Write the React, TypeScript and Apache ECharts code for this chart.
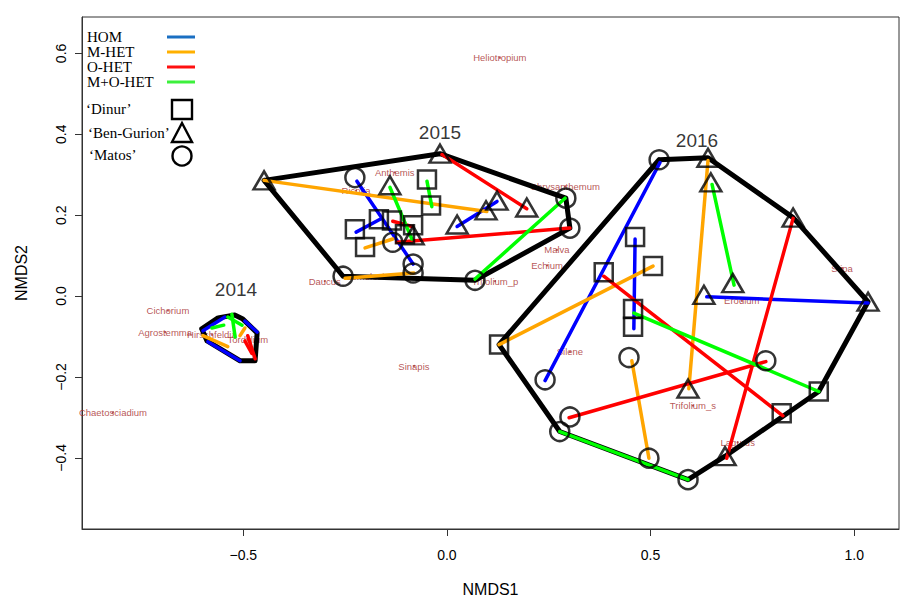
import React, { useEffect, useRef } from "react";
import * as echarts from "echarts";

type Pt = [number, number];
type Seg = [number, number, number, number];

// Axis ticks
const xTicks = [-0.5, 0, 0.5, 1.0];
const yTicks = [-0.4, -0.2, 0, 0.2, 0.4, 0.6];

// Sample scores (NMDS1, NMDS2) by site: 2015 then 2016
const dinur: Pt[] = [
  [-0.226, 0.165], [-0.201, 0.121], [-0.167, 0.190], [-0.135, 0.187],
  [-0.083, 0.175], [-0.103, 0.153], [-0.049, 0.288], [-0.039, 0.224],
  [0.128, -0.120], [0.913, -0.236], [0.822, -0.290], [0.462, 0.146],
  [0.506, 0.074], [0.385, 0.059], [0.457, -0.032], [0.457, -0.076],
];
const benGurion: Pt[] = [
  [-0.449, 0.286], [-0.017, 0.352], [-0.140, 0.274], [-0.083, 0.150],
  [0.025, 0.177], [0.096, 0.212], [0.123, 0.236], [0.196, 0.219],
  [0.641, 0.342], [0.648, 0.281], [0.850, 0.194], [1.034, -0.014],
  [0.702, 0.032], [0.631, 0.003], [0.592, -0.229], [0.683, -0.396],
];
const matos: Pt[] = [
  [-0.226, 0.293], [-0.133, 0.133], [-0.083, 0.079], [-0.083, 0.057],
  [-0.255, 0.049], [0.069, 0.039], [0.292, 0.242], [0.302, 0.168],
  [0.521, 0.337], [0.241, -0.207], [0.447, -0.152], [0.783, -0.160],
  [0.302, -0.299], [0.277, -0.335], [0.496, -0.401], [0.592, -0.454],
];

// Convex hulls of each year
const hull2014: Pt[] = [
  [-0.602, -0.081], [-0.562, -0.054], [-0.521, -0.047], [-0.501, -0.057],
  [-0.466, -0.091], [-0.471, -0.160], [-0.508, -0.160], [-0.589, -0.111],
];
const hull2015: Pt[] = [
  [-0.449, 0.286], [-0.017, 0.352], [0.292, 0.242], [0.302, 0.168],
  [0.069, 0.039], [-0.255, 0.049],
];
const hull2016: Pt[] = [
  [0.521, 0.337], [0.641, 0.342], [0.850, 0.194], [1.034, -0.014],
  [0.913, -0.236], [0.683, -0.396], [0.592, -0.454], [0.277, -0.335],
  [0.128, -0.120],
];

// Paired-sample segments by treatment: [x1, y1, x2, y2]
const homSegs: Seg[] = [
  [-0.599, -0.086, -0.545, -0.052], [-0.587, -0.113, -0.508, -0.160], [-0.496, -0.062, -0.466, -0.089],
  [-0.221, 0.284, -0.083, 0.079], [-0.223, 0.158, -0.164, 0.190], [0.025, 0.172, 0.123, 0.234],
  [0.523, 0.330, 0.241, -0.209], [0.462, 0.141, 0.459, -0.081], [0.638, -0.002, 1.034, -0.017],
];
const mHetSegs: Seg[] = [
  [-0.599, -0.098, -0.538, -0.125], [-0.508, -0.098, -0.496, -0.079],
  [-0.449, 0.286, 0.098, 0.209], [-0.201, 0.119, -0.133, 0.141], [-0.250, 0.044, -0.081, 0.057],
  [0.128, -0.120, 0.506, 0.074], [0.641, 0.335, 0.594, -0.229], [0.454, -0.160, 0.496, -0.401],
];
const oHetSegs: Seg[] = [
  [-0.489, -0.098, -0.471, -0.155], [-0.496, -0.111, -0.479, -0.142],
  [-0.012, 0.350, 0.196, 0.216], [-0.123, 0.133, 0.302, 0.168], [-0.133, 0.185, -0.086, 0.172],
  [0.385, 0.049, 0.825, -0.296], [0.850, 0.192, 0.687, -0.401], [0.300, -0.301, 0.783, -0.162],
];
const moHetSegs: Seg[] = [
  [-0.577, -0.079, -0.548, -0.072], [-0.528, -0.045, -0.520, -0.101], [-0.538, -0.052, -0.503, -0.072],
  [-0.140, 0.269, -0.086, 0.141], [-0.049, 0.284, -0.037, 0.221], [0.290, 0.242, 0.069, 0.042],
  [0.651, 0.276, 0.705, 0.027], [0.459, -0.042, 0.913, -0.236], [0.277, -0.335, 0.592, -0.454],
];

// Species scores
const speciesNames = [
  "Heliotropium", "Anthemis", "Ricotia", "Chrysanthemum", "Malva", "Echium",
  "Trifolium_p", "Daucus", "Lomelosia", "Stipa", "Erodium", "Silene", "Sinapis",
  "Trifolium_s", "Lagurus", "Cichorium", "Agrostemma", "Hirschfeldia", "Tordylium",
  "Chaetosciadium",
];
const speciesPos: Pt[] = [
  [0.130, 0.589], [-0.128, 0.306], [-0.223, 0.261], [0.290, 0.271], [0.270, 0.114],
  [0.246, 0.076], [0.118, 0.037], [-0.300, 0.037], [-0.194, 0.049], [0.970, 0.069],
  [0.724, -0.012], [0.302, -0.138], [-0.081, -0.173], [0.604, -0.271], [0.714, -0.362],
  [-0.685, -0.036], [-0.692, -0.089], [-0.577, -0.096], [-0.489, -0.108], [-0.820, -0.288],
];

// Year annotations
const years = ["2014", "2015", "2016"];
const yearPos: Pt[] = [[-0.518, 0.017], [-0.017, 0.404], [0.614, 0.385]];

// Legend entries
const treatmentNames = ["HOM", "M-HET", "O-HET", "M+O-HET"];
const treatmentLegendColors = ["#1a6fc2", "#ffb000", "#ff1010", "#3cf03c"];
const siteNames = ["\u2018Dinur\u2019", "\u2018Ben-Gurion\u2019", "\u2018Matos\u2019"];

const SEG_COLORS = { hom: "#0000ff", mhet: "#ffa500", ohet: "#ff0000", mohet: "#00ff00" };
const BROWN = "#a52a2a";
const SANS = "'Liberation Sans', Arial, sans-serif";
const SERIF = "'Liberation Serif', 'Times New Roman', serif";

const fmt = (v: number) => (v < 0 ? "\u2212" : "") + Math.abs(v).toFixed(1);

const segSeries = (segs: Seg[], color: string) => ({
  type: "lines",
  coordinateSystem: "cartesian2d",
  data: segs.map((s) => ({ coords: [[s[0], s[1]], [s[2], s[3]]] })),
  lineStyle: { color, width: 3.5, opacity: 1, cap: "round" },
  silent: true,
  z: 3,
});

const siteSeries = (pts: Pt[], symbol: string, size: number | number[]) => ({
  type: "scatter",
  data: pts,
  symbol,
  symbolSize: size,
  itemStyle: { color: "rgba(0,0,0,0)", borderColor: "#000", borderWidth: 2.5 },
  silent: true,
  z: 4,
});

export default function App() {
  const ref = useRef<HTMLDivElement>(null);

  useEffect(() => {
    if (!ref.current) return;
    const chart = echarts.init(ref.current, null, { renderer: "svg" });

    const legendGraphics: any[] = [];
    const rowY = [37, 52, 67, 82];
    treatmentNames.forEach((n, i) => {
      legendGraphics.push({
        type: "text",
        x: 87,
        y: rowY[i],
        style: { text: n, font: `15px ${SERIF}`, fill: "#000", align: "left", verticalAlign: "middle", textAlign: "left", textVerticalAlign: "middle" },
      });
      legendGraphics.push({
        type: "line",
        shape: { x1: 167, y1: rowY[i], x2: 195, y2: rowY[i] },
        style: { stroke: treatmentLegendColors[i], lineWidth: 3 },
      });
    });
    const siteY = [109, 133, 155];
    const siteX = [86, 88, 89];
    siteNames.forEach((n, i) => {
      legendGraphics.push({
        type: "text",
        x: siteX[i],
        y: siteY[i],
        style: { text: n, font: `15px ${SERIF}`, fill: "#000", align: "left", verticalAlign: "middle", textAlign: "left", textVerticalAlign: "middle" },
      });
    });
    legendGraphics.push({
      type: "rect",
      shape: { x: 172, y: 100, width: 20, height: 19 },
      style: { fill: "none", stroke: "#000", lineWidth: 2.4 },
    });
    legendGraphics.push({
      type: "polygon",
      shape: { points: [[182, 123], [172, 142], [192, 142]] },
      style: { fill: "none", stroke: "#000", lineWidth: 2.4 },
    });
    legendGraphics.push({
      type: "circle",
      shape: { cx: 182, cy: 156, r: 9.5 },
      style: { fill: "none", stroke: "#000", lineWidth: 2.4 },
    });

    chart.setOption({
      animation: false,
      backgroundColor: "#fff",
      grid: {
        left: 82, top: 17, right: 4, bottom: 71,
        show: true, borderColor: "#333", borderWidth: 1, backgroundColor: "transparent",
      },
      xAxis: {
        type: "value",
        min: -0.896,
        max: 1.110,
        splitLine: { show: false },
        axisLine: { show: true, onZero: false, lineStyle: { color: "#333", width: 1 } },
        axisTick: { show: true, customValues: xTicks, length: 7, lineStyle: { color: "#333" } },
        axisLabel: { customValues: xTicks, formatter: fmt, fontSize: 14, color: "#000", fontFamily: SANS, margin: 19 },
        name: "NMDS1",
        nameLocation: "middle",
        nameGap: 52,
        nameTextStyle: { fontSize: 16, color: "#000", fontFamily: SANS },
      },
      yAxis: {
        type: "value",
        min: -0.576,
        max: 0.690,
        splitLine: { show: false },
        axisLine: { show: true, onZero: false, lineStyle: { color: "#333", width: 1 } },
        axisTick: { show: true, customValues: yTicks, length: 7, lineStyle: { color: "#333" } },
        axisLabel: { customValues: yTicks, formatter: fmt, fontSize: 14, color: "#000", fontFamily: SANS, rotate: 90, margin: 14 },
        name: "NMDS2",
        nameLocation: "middle",
        nameGap: 53,
        nameRotate: 90,
        nameTextStyle: { fontSize: 16, color: "#000", fontFamily: SANS },
      },
      series: [
        {
          type: "scatter",
          data: speciesNames.map((n, i) => ({ name: n, value: speciesPos[i] })),
          symbol: "circle",
          symbolSize: 2,
          itemStyle: { color: BROWN },
          label: { show: true, position: "inside", formatter: "{b}", color: BROWN, fontSize: 9.5, fontFamily: SANS },
          silent: true,
          z: 1,
        },
        {
          type: "lines",
          coordinateSystem: "cartesian2d",
          polyline: true,
          data: [hull2014, hull2015, hull2016].map((h) => ({ coords: [...h, h[0]] })),
          lineStyle: { color: "#000", width: 5, opacity: 1, join: "round", cap: "round" },
          silent: true,
          z: 2,
        },
        segSeries(homSegs, SEG_COLORS.hom),
        segSeries(mHetSegs, SEG_COLORS.mhet),
        segSeries(oHetSegs, SEG_COLORS.ohet),
        segSeries(moHetSegs, SEG_COLORS.mohet),
        siteSeries(dinur, "rect", 18),
        siteSeries(benGurion, "triangle", [21, 18]),
        siteSeries(matos, "circle", 19),
        {
          type: "scatter",
          data: years.map((n, i) => ({ name: n, value: yearPos[i] })),
          symbolSize: 1,
          itemStyle: { color: "rgba(0,0,0,0)" },
          label: { show: true, position: "inside", formatter: "{b}", color: "#000", fontSize: 19, fontFamily: SANS },
          silent: true,
          z: 5,
        },
      ],
      graphic: legendGraphics,
    });

    return () => chart.dispose();
  }, []);

  return (
    <div
      ref={ref}
      style={{ position: "fixed", left: 0, top: 0, width: 903, height: 602, background: "#fff" }}
    />
  );
}
